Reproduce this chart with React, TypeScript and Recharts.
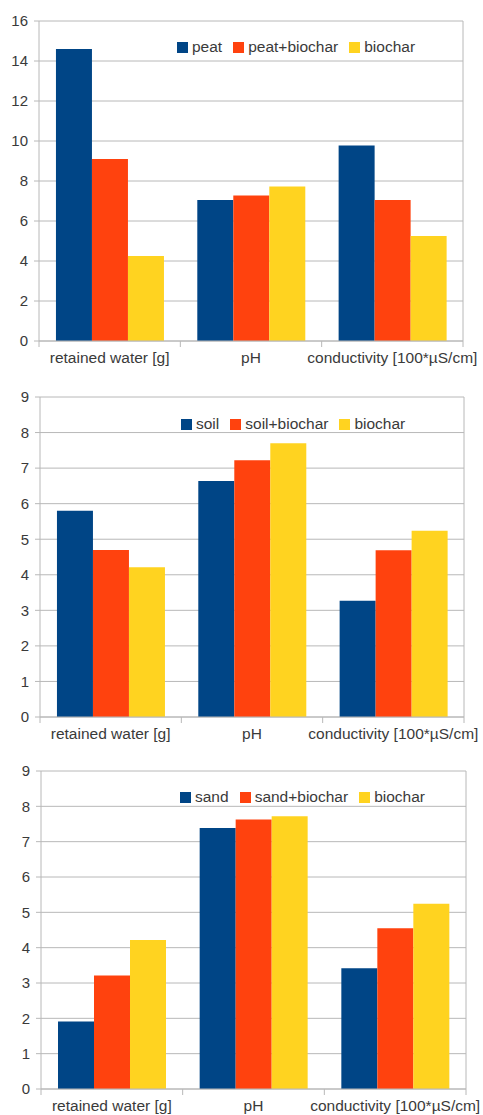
import React from 'react';
import { BarChart, Bar, XAxis, YAxis, CartesianGrid, Legend } from 'recharts';

const categories = ['retained water [g]', 'pH', 'conductivity [100*µS/cm]'];

const peat = [14.6, 7.05, 9.78];
const peatBiochar = [9.1, 7.28, 7.05];
const biochar1 = [4.25, 7.73, 5.25];

const soil = [5.8, 6.64, 3.27];
const soilBiochar = [4.7, 7.22, 4.69];
const biochar2 = [4.21, 7.7, 5.24];

const sand = [1.91, 7.39, 3.42];
const sandBiochar = [3.21, 7.63, 4.55];
const biochar3 = [4.22, 7.72, 5.24];

const seriesNames1 = ['peat', 'peat+biochar', 'biochar'];
const seriesNames2 = ['soil', 'soil+biochar', 'biochar'];
const seriesNames3 = ['sand', 'sand+biochar', 'biochar'];

const ticks1 = [0, 2, 4, 6, 8, 10, 12, 14, 16];
const ticks23 = [0, 1, 2, 3, 4, 5, 6, 7, 8, 9];

const COLORS = ['#004586', '#ff420e', '#ffd320'];
const FONT = '"Liberation Sans", Arial, sans-serif';
const FS = 15.5;
const FS_Y = 15;
const TEXT = '#3a3a3a';
const GRID = '#b8b8b8';
const W = 483;

function buildRows(a: number[], b: number[], c: number[]) {
  return categories.map((cat, i) => ({ cat, s0: a[i], s1: b[i], s2: c[i] }));
}

function CategoryTick(props: any) {
  const { x, y, payload, index, band, count } = props;
  return (
    <g>
      <line x1={x - band / 2} x2={x - band / 2} y1={y - 6} y2={y} stroke={GRID} />
      {index === count - 1 && (
        <line x1={x + band / 2} x2={x + band / 2} y1={y - 6} y2={y} stroke={GRID} />
      )}
      <text x={x} y={y + 16} textAnchor="middle" fontFamily={FONT} fontSize={FS} fill={TEXT}>
        {payload.value}
      </text>
    </g>
  );
}

function LegendBox({ names }: { names: string[] }) {
  return (
    <div
      style={{
        display: 'flex',
        alignItems: 'center',
        fontFamily: FONT,
        fontSize: FS,
        color: TEXT,
        whiteSpace: 'nowrap',
        height: 16,
      }}
    >
      {names.map((n, i) => (
        <span key={n} style={{ display: 'flex', alignItems: 'center', marginRight: 11 }}>
          <span style={{ display: 'inline-block', width: 11, height: 11, background: COLORS[i], marginRight: 4 }} />
          {n}
        </span>
      ))}
    </div>
  );
}

type ChartProps = {
  top: number;
  height: number;
  margin: { top: number; right: number; bottom: number; left: number };
  yWidth: number;
  xHeight: number;
  ticks: number[];
  rows: any[];
  names: string[];
  legendLeft: number;
  legendCy: number;
};

function Panel(p: ChartProps) {
  const plotW = W - p.margin.left - p.margin.right - p.yWidth;
  const band = plotW / categories.length;
  const max = p.ticks[p.ticks.length - 1];
  return (
    <div style={{ position: 'absolute', left: 0, top: p.top, width: W, height: p.height }}>
      <BarChart
        width={W}
        height={p.height}
        data={p.rows}
        margin={p.margin}
        barCategoryGap="12%"
        barGap={0}
      >
        <CartesianGrid
          stroke={GRID}
          horizontal={true}
          vertical={true}
          verticalCoordinatesGenerator={(args: any) => [args.offset.left + args.offset.width]}
        />
        <XAxis
          dataKey="cat"
          height={p.xHeight}
          interval={0}
          tickSize={6}
          tickMargin={0}
          tickLine={false}
          axisLine={{ stroke: GRID }}
          tick={(tp: any) => <CategoryTick {...tp} band={band} count={categories.length} />}
        />
        <YAxis
          width={p.yWidth}
          domain={[0, max]}
          ticks={p.ticks}
          interval={0}
          tickSize={5}
          tickMargin={6}
          tickLine={{ stroke: GRID }}
          axisLine={{ stroke: GRID }}
          tick={{ fontFamily: FONT, fontSize: FS_Y, fill: TEXT }}
        />
        <Legend
          layout="horizontal"
          verticalAlign="middle"
          align="center"
          wrapperStyle={{ top: p.legendCy - 8, left: p.legendLeft, width: 'auto', height: 16 }}
          content={() => <LegendBox names={p.names} />}
        />
        <Bar dataKey="s0" name={p.names[0]} fill={COLORS[0]} isAnimationActive={false} />
        <Bar dataKey="s1" name={p.names[1]} fill={COLORS[1]} isAnimationActive={false} />
        <Bar dataKey="s2" name={p.names[2]} fill={COLORS[2]} isAnimationActive={false} />
      </BarChart>
    </div>
  );
}

export default function App() {
  return (
    <div style={{ position: 'absolute', left: 0, top: 0, width: W, height: 1115, background: '#fff', overflow: 'hidden' }}>
      <Panel
        top={0}
        height={380}
        margin={{ top: 21, right: 20, bottom: 9, left: 0 }}
        yWidth={39}
        xHeight={30}
        ticks={ticks1}
        rows={buildRows(peat, peatBiochar, biochar1)}
        names={seriesNames1}
        legendLeft={177}
        legendCy={47}
      />
      <Panel
        top={380}
        height={370}
        margin={{ top: 17, right: 19, bottom: 3, left: 0 }}
        yWidth={40}
        xHeight={30}
        ticks={ticks23}
        rows={buildRows(soil, soilBiochar, biochar2)}
        names={seriesNames2}
        legendLeft={181}
        legendCy={44}
      />
      <Panel
        top={750}
        height={365}
        margin={{ top: 21, right: 17, bottom: 0, left: 0 }}
        yWidth={41}
        xHeight={26}
        ticks={ticks23}
        rows={buildRows(sand, sandBiochar, biochar3)}
        names={seriesNames3}
        legendLeft={180}
        legendCy={47}
      />
    </div>
  );
}
